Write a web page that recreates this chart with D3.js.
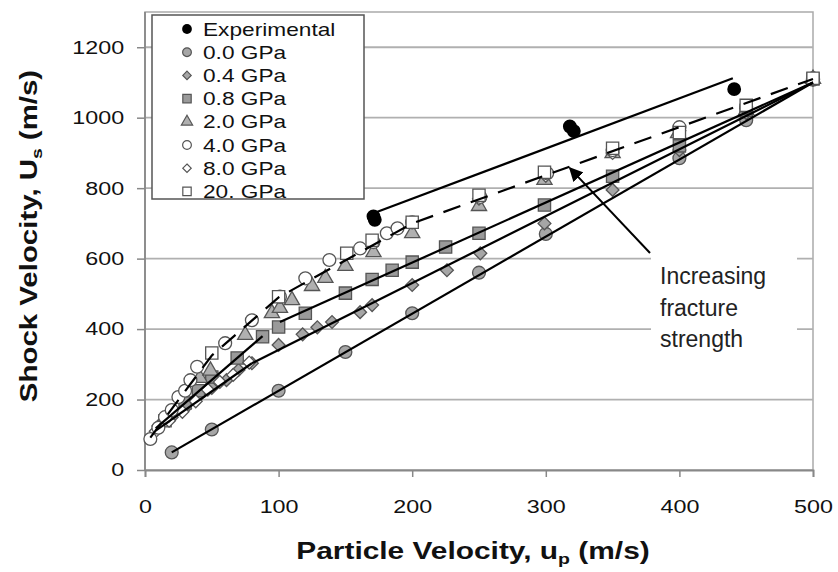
<!DOCTYPE html>
<html>
<head>
<meta charset="utf-8">
<script src="https://cdn.jsdelivr.net/npm/d3@7"></script>
<style>
  body { margin: 0; background: #fff; }
  svg { display: block; font-family: "Liberation Sans", Arial, sans-serif; }
</style>
</head>
<body>
<div id="chart"></div>
<script>
// ---- data (u_p, U_s in m/s) ----
const experimental = [[171, 720], [172, 710], [318, 975], [321, 962], [441, 1081]];
const gpa00 = [[20, 50], [50, 115], [100, 225], [150, 335], [200, 445], [250, 560], [300, 670], [400, 885], [450, 993], [500, 1108]];
const gpa04 = [[10, 125], [20, 150], [30, 175], [41, 213], [50, 233], [61, 255], [70, 284], [80, 303], [100, 355], [118, 385],
               [129, 405], [140, 420], [161, 448], [170, 468], [200, 525], [226, 567], [251, 615], [299, 700], [350, 795],
               [400, 908], [450, 1013], [500, 1108]];
const gpa08 = [[15, 140], [30, 190], [40, 225], [50, 264], [69, 318], [88, 378], [100, 406], [120, 445], [150, 502], [170, 541],
               [185, 567], [200, 590], [225, 633], [250, 672], [299, 752], [350, 834], [400, 920], [450, 1021], [500, 1110]];
const gpa20 = [[41, 261], [49, 282], [75, 383], [95, 445], [101, 460], [110, 482], [125, 522], [135, 545], [150, 579],
               [171, 618], [200, 672], [250, 749], [299, 823], [350, 899], [399, 956], [450, 1021], [500, 1110]];
const gpa40 = [[4, 88], [10, 120], [15, 150], [20, 170], [25, 207], [30, 225], [34, 255], [39, 293], [60, 360], [80, 425],
               [101, 492], [120, 544], [138, 596], [161, 629], [171, 647], [181, 672], [189, 686], [200, 703], [251, 775],
               [301, 842], [350, 908], [400, 973], [450, 1030], [500, 1112]];
const gpa80 = [[8, 110], [18, 140], [28, 165], [38, 195], [47, 228], [56, 250], [66, 270], [78, 305], [250, 770], [300, 835],
               [350, 900], [400, 963], [450, 1026], [500, 1110]];
const gpa200 = [[50, 332], [100, 492], [151, 615], [170, 652], [200, 703], [250, 780], [299, 845], [350, 913], [400, 958],
                [450, 1035], [500, 1112]];

// fitted lines
const fitExp = [[172, 730], [440, 1112]];
const fit00 = [[20, 50], [500, 1100]];
const fit04Low = [[8, 112], [80, 303]];
const fit04 = [[80, 303], [500, 1100]];
const fit08Low = [[8, 118], [88, 380]];
const fit08 = [[101, 420], [500, 1100]];
const fitDashed = [[4, 92], [50, 325], [100, 490], [200, 700], [500, 1110]];

const xTicks = [0, 100, 200, 300, 400, 500];
const yTicks = [0, 200, 400, 600, 800, 1000, 1200];
const legendLabels = ["Experimental", "0.0 GPa", "0.4 GPa", "0.8 GPa", "2.0 GPa", "4.0 GPa", "8.0 GPa", "20. GPa"];
const noteLines = ["Increasing", "fracture", "strength"];
const arrowFrom = [378, 616];
const arrowTo = [318, 857];

// ---- layout ----
const W = 838, H = 572;
const x = d3.scaleLinear().domain([0, 500]).range([145, 813]);
const y = d3.scaleLinear().domain([0, 1300]).range([470, 12]);
// the source font is drawn wider than Arial, so text is stretched sideways
const wide = 1.26;

const svg = d3.select("#chart").append("svg").attr("width", W).attr("height", H);

// frame + gridlines
svg.append("rect")
  .attr("x", x(0)).attr("y", y(1300))
  .attr("width", x(500) - x(0)).attr("height", y(0) - y(1300))
  .attr("fill", "none").attr("stroke", "#aaa").attr("stroke-width", 1.5);

svg.append("g").selectAll("line")
  .data(yTicks.filter(d => d > 0))
  .join("line")
  .attr("x1", x(0)).attr("x2", x(500))
  .attr("y1", d => y(d)).attr("y2", d => y(d))
  .attr("stroke", "#b0b0b0").attr("stroke-width", 1.8);

// axes
const yAxis = d3.axisLeft(y).tickValues(yTicks).tickFormat(d3.format("d")).tickSize(8).tickPadding(8.5);
const xAxis = d3.axisBottom(x).tickValues(xTicks).tickFormat(d3.format("d")).tickSize(7).tickPadding(23);

const gy = svg.append("g").attr("transform", `translate(${x(0)},0)`).call(yAxis);
const gx = svg.append("g").attr("transform", `translate(0,${y(0)})`).call(xAxis);
[gx, gy].forEach(g => {
  g.select(".domain").attr("stroke", "#888").attr("stroke-width", 1.8);
  g.selectAll(".tick line").attr("stroke", "#888").attr("stroke-width", 1.5);
  g.selectAll(".tick text").attr("fill", "#111").style("font-size", "18.5px")
    .style("font-family", "'Liberation Sans', Arial, sans-serif")
    .attr("transform", `scale(${wide},1)`);
});
gy.select(".domain").attr("d", `M0,${y(1300)}V${y(0)}`);

// white box behind annotation (gridlines are broken there)
svg.append("rect")
  .attr("x", 651).attr("y", 242).attr("width", 146).attr("height", 130)
  .attr("fill", "#fff");

// ---- markers ----
const stroke = "#555";
const series = [
  { data: gpa00, type: d3.symbolCircle, size: 130, fill: "#a6a6a6" },
  { data: gpa04, type: d3.symbolDiamond2, size: 105, fill: "#a6a6a6" },
  { data: gpa08, type: d3.symbolSquare, size: 150, fill: "#9a9a9a" },
  { data: gpa20, type: d3.symbolTriangle, size: 100, fill: "#b0b0b0" },
  { data: gpa80, type: d3.symbolDiamond2, size: 105, fill: "#fff" },
  { data: gpa40, type: d3.symbolCircle, size: 130, fill: "#fff" },
  { data: gpa200, type: d3.symbolSquare, size: 150, fill: "#fff" }
];
series.forEach(s => {
  svg.append("g").selectAll("path")
    .data(s.data)
    .join("path")
    .attr("transform", d => `translate(${x(d[0])},${y(d[1])})`)
    .attr("d", d3.symbol().type(s.type).size(s.size))
    .attr("fill", s.fill).attr("stroke", stroke).attr("stroke-width", 1.3);
});

svg.append("g").selectAll("path")
  .data(experimental)
  .join("path")
  .attr("transform", d => `translate(${x(d[0])},${y(d[1])})`)
  .attr("d", d3.symbol().type(d3.symbolCircle).size(150))
  .attr("fill", "#000");

// ---- lines ----
const line = d3.line().x(d => x(d[0])).y(d => y(d[1]));
[fitExp, fit00, fit04Low, fit04, fit08Low, fit08].forEach(f => {
  svg.append("path").attr("d", line(f))
    .attr("fill", "none").attr("stroke", "#000").attr("stroke-width", 2.2);
});
svg.append("path").attr("d", line(fitDashed))
  .attr("fill", "none").attr("stroke", "#000").attr("stroke-width", 2.2)
  .attr("stroke-dasharray", "18,11");

// ---- legend ----
const legend = svg.append("g");
legend.append("rect")
  .attr("x", 152).attr("y", 15).attr("width", 212).attr("height", 184)
  .attr("fill", "#fff").attr("stroke", "#555").attr("stroke-width", 1.5);

const legendSym = [
  { type: d3.symbolCircle, size: 75, fill: "#000", stroke: "none" },
  { type: d3.symbolCircle, size: 60, fill: "#a6a6a6", stroke: stroke },
  { type: d3.symbolDiamond2, size: 45, fill: "#a6a6a6", stroke: stroke },
  { type: d3.symbolSquare, size: 70, fill: "#9a9a9a", stroke: stroke },
  { type: d3.symbolTriangle, size: 55, fill: "#b0b0b0", stroke: stroke },
  { type: d3.symbolCircle, size: 60, fill: "#fff", stroke: stroke },
  { type: d3.symbolDiamond2, size: 45, fill: "#fff", stroke: stroke },
  { type: d3.symbolSquare, size: 70, fill: "#fff", stroke: stroke }
];
const items = legend.selectAll(".item")
  .data(legendLabels)
  .join("g")
  .attr("class", "item")
  .attr("transform", (d, i) => `translate(187,${29 + i * 23.2})`);
items.append("path")
  .attr("d", (d, i) => d3.symbol().type(legendSym[i].type).size(legendSym[i].size)())
  .attr("fill", (d, i) => legendSym[i].fill)
  .attr("stroke", (d, i) => legendSym[i].stroke).attr("stroke-width", 1.2);
items.append("text")
  .attr("transform", `translate(16,6.5) scale(${wide},1)`)
  .style("font-size", "18px").attr("fill", "#111")
  .text(d => d);

// ---- annotation ----
svg.append("defs").append("marker")
  .attr("id", "head").attr("viewBox", "0 0 10 10")
  .attr("refX", 9).attr("refY", 5)
  .attr("markerWidth", 7).attr("markerHeight", 7)
  .attr("orient", "auto")
  .append("path").attr("d", "M0,0L10,5L0,10z").attr("fill", "#000");

svg.append("line")
  .attr("x1", x(arrowFrom[0])).attr("y1", y(arrowFrom[1]))
  .attr("x2", x(arrowTo[0])).attr("y2", y(arrowTo[1]))
  .attr("stroke", "#000").attr("stroke-width", 2)
  .attr("marker-end", "url(#head)");

svg.append("text")
  .attr("x", 660).attr("y", 284)
  .style("font-size", "23px").attr("fill", "#222")
  .selectAll("tspan")
  .data(noteLines)
  .join("tspan")
  .attr("x", 660).attr("dy", (d, i) => i ? 31.5 : 0)
  .text(d => d);

// ---- axis titles ----
const xt = svg.append("text")
  .attr("transform", `translate(473,559) scale(1.3,1)`)
  .attr("text-anchor", "middle")
  .style("font-size", "23px").style("font-weight", "bold").attr("fill", "#111");
xt.append("tspan").text("Particle Velocity, u");
xt.append("tspan").attr("dy", 5).style("font-size", "15px").text("p");
xt.append("tspan").attr("dy", -5).text(" (m/s)");

const yt = svg.append("text")
  .attr("transform", "translate(37,236) rotate(-90) scale(1.28,1)")
  .attr("text-anchor", "middle")
  .style("font-size", "23px").style("font-weight", "bold").attr("fill", "#111");
yt.append("tspan").text("Shock Velocity, U");
yt.append("tspan").attr("dy", 5).style("font-size", "15px").text("s");
yt.append("tspan").attr("dy", -5).text(" (m/s)");
</script>
</body>
</html>
